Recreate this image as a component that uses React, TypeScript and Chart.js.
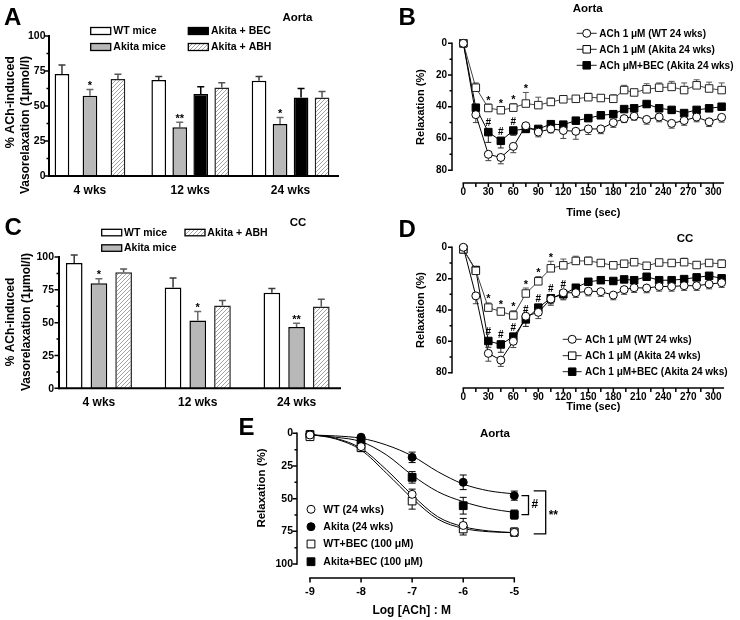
import React, { useEffect, useRef } from 'react';
import { Chart, registerables } from 'chart.js';

Chart.register(...registerables);

const FONT = 'Arial, "Liberation Sans", Helvetica, sans-serif';
Chart.defaults.font.family = FONT;
Chart.defaults.color = '#000';

const PAGE_W = 740;
const PAGE_H = 620;
const Y_W = 30;
const X_H = 30;
const GRAY = '#b8b8b8';

// ---------------- Panel A : Aorta, % ACh-induced vasorelaxation ----------------
const ageLabels = ['4 wks', '12 wks', '24 wks'];
const aortaWT = [72.8, 68.5, 68.0];
const aortaWTErr = [6.4, 2.6, 3.1];
const aortaAkita = [57.3, 34.8, 37.2];
const aortaAkitaErr = [4.5, 3.6, 4.6];
const aortaBEC = [null, 58.5, 56.1];
const aortaBECErr = [0, 5.2, 6.4];
const aortaABH = [69.2, 63.2, 56.1];
const aortaABHErr = [3.4, 3.4, 4.3];
const aortaAkitaSig = ['*', '**', '*'];

// ---------------- Panel C : CC ----------------
const ccWT = [95.4, 76.7, 72.7];
const ccWTErr = [6.1, 7.3, 3.3];
const ccAkita = [80.0, 51.6, 46.6];
const ccAkitaErr = [3.5, 6.9, 3.0];
const ccABH = [88.4, 63.0, 62.3];
const ccABHErr = [2.5, 3.8, 5.5];
const ccAkitaSig = ['*', '*', '**'];

const pctTicks = [0, 25, 50, 75, 100];
const pctMinor = [12.5, 37.5, 62.5, 87.5];

// ---------------- Panels B, D : time course ----------------
const timeSec = [0, 15, 30, 45, 60, 75, 90, 105, 120, 135, 150, 165, 180, 193, 205, 220, 235, 250, 265, 280, 295, 310];
const timeTickLabels = [0, 30, 60, 90, 120, 150, 180, 210, 240, 270, 300];
const timeMinorTicks = [15, 45, 75, 105, 135, 165, 195, 225, 255, 285];
const relaxTicks = [0, 20, 40, 60, 80];
const relaxMinor = [10, 30, 50, 70];

// B (Aorta)
const bWT = [0, 45, 70, 72, 65, 52, 56, 54, 55, 55.5, 54, 54, 50, 47.5, 46, 48, 46.5, 50.5, 48.7, 46.5, 49.5, 46.7];
const bWTErr = [0, 5, 4, 4, 4, 2, 3, 2.5, 5, 5, 3.5, 3, 3, 2.5, 2.5, 3, 3, 3, 3, 3, 3, 3];
const bAkita = [0, 28, 40.8, 42.2, 40.6, 38, 39, 37, 35.3, 35, 34, 34.5, 35, 29.5, 31, 29, 28, 27.5, 29.5, 26.5, 28.5, 29.5];
const bAkitaErr = [0, 3, 2.5, 2, 2.5, 7, 5, 2.5, 2, 2, 2.5, 2, 2.5, 3, 1.5, 3.5, 3, 3.5, 4.5, 3.5, 4, 4.5];
const bBEC = [0, 40.6, 56, 61.5, 55, 54, 54, 51, 51.3, 48.8, 47.2, 45.4, 44.7, 41.5, 41, 38.3, 41, 42, 44, 42, 41, 40];
const bBECErr = [0, 2, 6.5, 4.5, 3, 2, 2, 1.5, 1.5, 1.5, 1.5, 1.5, 1.5, 1.5, 2, 2, 1.5, 2, 2, 1.5, 1.5, 2];
const bAkitaStarAt = [30, 45, 60, 75];
const bBECHashAt = [30, 45, 60];

// D (CC)
const dWT = [0, 31, 67.7, 72, 60, 44, 41.5, 33, 29, 29, 28, 28.3, 30.5, 27, 25.8, 26, 25, 25, 24.5, 24.5, 23.5, 22.6];
const dWTErr = [0, 5, 5, 4, 4, 3, 4, 4, 3, 3, 3, 3, 3, 3, 3, 3, 3, 3, 3, 3, 3, 3];
const dAkita = [1.3, 15, 38.5, 41, 43.5, 29.5, 21.7, 13.4, 11.5, 8.7, 8.7, 10, 11.5, 10.5, 9.5, 11.8, 9.7, 10, 9.5, 11.3, 10, 10.5];
const dAkitaErr = [0, 2, 3, 2, 3, 3.5, 3, 4.5, 4, 3, 2.5, 2, 2, 2, 2, 2, 2, 2, 2.5, 2, 2, 2.5];
const dBEC = [1.3, 14.5, 59.8, 62, 57, 46, 38.5, 32.5, 30, 25.8, 22, 21, 21.5, 20.5, 21, 18.8, 21, 21, 20.3, 19.2, 18.2, 19.8];
const dBECErr = [0, 2, 4, 5, 4.5, 4.5, 3, 3.5, 3.5, 2, 2, 2, 2, 2, 2, 2, 2, 2, 2, 2, 2, 2];
const dAkitaStarAt = [30, 45, 60, 75, 90, 105];
const dBECHashAt = [30, 45, 60, 75, 90, 105, 120];

// ---------------- Panel E : concentration-response ----------------
const logACh = [-9, -8, -7, -6, -5];
const eWT = [1.3, 10.2, 46.7, 70.5, 75.8];
const eWTErr = [1.5, 3, 4, 5.4, 3];
const eAkita = [0.8, 3.0, 18.4, 37.5, 47.7];
const eAkitaErr = [1, 1.5, 4, 5.6, 3.5];
const eWTBEC = [2.6, 11, 51.8, 73.2, 75.5];
const eWTBECErr = [1.5, 3, 6.2, 4.6, 3];
const eAkitaBEC = [1, 5.6, 33.7, 55.4, 62.2];
const eAkitaBECErr = [1, 2, 4.4, 6.4, 3.5];
const fitX = [-9, -8.5, -8, -7.5, -7, -6.5, -6, -5.5, -5];
const fitWT = [0.8, 3.8, 11.5, 28, 47.2, 63.8, 71.4, 74.7, 76];
const fitAkita = [1.3, 2, 3.8, 9, 17.3, 29.3, 38.8, 44, 46.4];
const fitWTBEC = [0.8, 4.3, 12.8, 30.6, 49.7, 65.6, 72.7, 75.3, 76];
const fitAkitaBEC = [1.3, 3, 6.4, 16.6, 32, 44.6, 52.3, 57.5, 60.5];
const logTicks = [-9, -8, -7, -6, -5];

// ---------------- helpers ----------------
function font(size: number, bold = true) {
  return `${bold ? 'bold ' : ''}${size}px ${FONT}`;
}

let hatchCache: any = null;
function hatch() {
  if (hatchCache) return hatchCache;
  const c = document.createElement('canvas');
  c.width = 4;
  c.height = 4;
  const g = c.getContext('2d')!;
  g.fillStyle = '#fff';
  g.fillRect(0, 0, 4, 4);
  g.strokeStyle = '#9a9a9a';
  g.lineWidth = 0.9;
  g.beginPath();
  g.moveTo(0, 4); g.lineTo(4, 0);
  g.moveTo(-1, 1); g.lineTo(1, -1);
  g.moveTo(3, 5); g.lineTo(5, 3);
  g.stroke();
  hatchCache = g.createPattern(c, 'repeat');
  return hatchCache;
}

function drawMarkerShape(ctx: any, style: string, x: number, y: number, r: number, fill: string) {
  ctx.beginPath();
  if (style === 'circle') ctx.arc(x, y, r, 0, Math.PI * 2);
  else ctx.rect(x - r, y - r, r * 2, r * 2);
  ctx.fillStyle = fill;
  ctx.fill();
  ctx.lineWidth = 1;
  ctx.strokeStyle = '#000';
  ctx.stroke();
}

function valOf(raw: any) {
  return raw !== null && typeof raw === 'object' ? raw.y : raw;
}

function errEnds(ds: any, v: number, e: number) {
  if (ds.errDir === 'both') return [v - e, v + e];
  if (ds.errDir === 'minus') return [v - e];
  return [v + e];
}

const errorBarsPlugin = {
  id: 'errorBars',
  beforeDatasetsDraw(chart: any) {
    const ys = chart.scales.y;
    const ctx = chart.ctx;
    chart.data.datasets.forEach((ds: any, di: number) => {
      if (!ds.errors) return;
      const meta = chart.getDatasetMeta(di);
      ctx.save();
      ctx.strokeStyle = ds.errColor || '#000';
      ctx.lineWidth = ds.errWidth || 1;
      const cap = ds.capHalf ?? 3;
      ds.data.forEach((raw: any, i: number) => {
        const v = valOf(raw);
        const e = ds.errors[i];
        const el = meta.data[i];
        if (v == null || !e || !el) return;
        const x = el.x;
        const y0 = ys.getPixelForValue(v);
        ctx.beginPath();
        for (const end of errEnds(ds, v, e)) {
          const y1 = ys.getPixelForValue(end);
          ctx.moveTo(x, y0);
          ctx.lineTo(x, y1);
          ctx.moveTo(x - cap, y1);
          ctx.lineTo(x + cap, y1);
        }
        ctx.stroke();
      });
      ctx.restore();
    });
  },
  afterDatasetsDraw(chart: any) {
    const ys = chart.scales.y;
    const ctx = chart.ctx;
    chart.data.datasets.forEach((ds: any, di: number) => {
      if (!ds.marks) return;
      const meta = chart.getDatasetMeta(di);
      ctx.save();
      ctx.fillStyle = '#000';
      ctx.textAlign = 'center';
      ctx.textBaseline = 'alphabetic';
      ds.data.forEach((raw: any, i: number) => {
        const m = ds.marks[i];
        const v = valOf(raw);
        const el = meta.data[i];
        if (!m || v == null || !el) return;
        let top = ys.getPixelForValue(v) - (ds.markClear || 0);
        const e = ds.errors ? ds.errors[i] : 0;
        if (e) for (const end of errEnds(ds, v, e)) top = Math.min(top, ys.getPixelForValue(end));
        const isHash = m.indexOf('#') >= 0;
        ctx.font = font(isHash ? 10 : 11);
        ctx.fillText(m, el.x, top - (isHash ? 2 : 0.5));
      });
      ctx.restore();
    });
  },
};

const prismAxesPlugin = {
  id: 'prismAxes',
  afterDraw(chart: any, _args: any, o: any) {
    if (!o || !o.on) return;
    const { ctx, chartArea } = chart;
    const xs = chart.scales.x;
    const ys = chart.scales.y;
    ctx.save();
    ctx.strokeStyle = '#000';
    ctx.lineWidth = o.lw;
    const ax = o.yAxisX ?? chartArea.left;
    const ya = ys.getPixelForValue(o.yFrom);
    const yb = ys.getPixelForValue(o.yTo);
    ctx.lineCap = 'square';
    ctx.beginPath();
    ctx.moveTo(ax, ya);
    ctx.lineTo(ax, yb);
    ctx.stroke();
    ctx.lineCap = 'butt';
    ctx.lineWidth = o.tw;
    ctx.beginPath();
    for (const v of o.yMajor) {
      const p = ys.getPixelForValue(v);
      ctx.moveTo(ax, p);
      ctx.lineTo(ax - o.major, p);
    }
    for (const v of o.yMinor || []) {
      const p = ys.getPixelForValue(v);
      ctx.moveTo(ax, p);
      ctx.lineTo(ax - o.minor, p);
    }
    ctx.stroke();
    if (o.yLabelSize) {
      ctx.font = font(o.yLabelSize);
      ctx.fillStyle = '#000';
      ctx.textAlign = 'right';
      ctx.textBaseline = 'middle';
      for (const v of o.yMajor) ctx.fillText(String(v), ax - o.yLabelPad, ys.getPixelForValue(v) + 0.5);
    }
    const ay = o.xAxisY ?? chartArea.bottom;
    const xa = o.xFromPx ?? xs.getPixelForValue(o.xFrom);
    const xb = o.xToPx ?? xs.getPixelForValue(o.xTo);
    ctx.lineWidth = o.lw;
    ctx.lineCap = 'square';
    ctx.beginPath();
    ctx.moveTo(xa, ay);
    ctx.lineTo(xb, ay);
    ctx.stroke();
    ctx.lineCap = 'butt';
    ctx.lineWidth = o.tw;
    ctx.beginPath();
    for (const v of o.xMajor || []) {
      const p = xs.getPixelForValue(v);
      ctx.moveTo(p, ay);
      ctx.lineTo(p, ay + o.major);
    }
    for (const v of o.xMinor || []) {
      const p = xs.getPixelForValue(v);
      ctx.moveTo(p, ay);
      ctx.lineTo(p, ay + o.xMinorLen);
    }
    ctx.stroke();
    ctx.restore();
  },
};

const decoPlugin = {
  id: 'deco',
  afterDraw(chart: any, _args: any, o: any) {
    const ctx = chart.ctx;
    for (const it of (o && o.items) || []) {
      ctx.save();
      if (it.t === 'text') {
        ctx.font = font(it.size, it.bold !== false);
        ctx.fillStyle = '#000';
        ctx.textAlign = it.align || 'center';
        ctx.textBaseline = it.base || 'middle';
        ctx.translate(it.x, it.y);
        if (it.rot) ctx.rotate(it.rot);
        ctx.fillText(it.text, 0, 0);
      } else if (it.t === 'swatch') {
        ctx.fillStyle = it.fill === 'hatch' ? hatch() : it.fill;
        ctx.fillRect(it.x, it.y, it.w, it.h);
        ctx.lineWidth = 1.3;
        ctx.strokeStyle = '#000';
        ctx.strokeRect(it.x, it.y, it.w, it.h);
      } else if (it.t === 'lineLegend') {
        ctx.strokeStyle = it.lineColor || '#000';
        ctx.lineWidth = 1;
        ctx.beginPath();
        ctx.moveTo(it.x1, it.y);
        ctx.lineTo(it.x2, it.y);
        ctx.stroke();
        drawMarkerShape(ctx, it.marker, (it.x1 + it.x2) / 2, it.y, it.r, it.fill);
      } else if (it.t === 'marker') {
        drawMarkerShape(ctx, it.marker, it.x, it.y, it.r, it.fill);
      } else if (it.t === 'bracket') {
        const ys = chart.scales.y;
        const y1 = ys.getPixelForValue(it.v1);
        const y2 = ys.getPixelForValue(it.v2);
        ctx.strokeStyle = '#000';
        ctx.lineWidth = 1.3;
        ctx.beginPath();
        ctx.moveTo(it.x - it.arm, y1);
        ctx.lineTo(it.x, y1);
        ctx.lineTo(it.x, y2);
        ctx.lineTo(it.x - it.arm, y2);
        ctx.stroke();
        ctx.font = font(it.size || 12);
        ctx.fillStyle = '#000';
        ctx.textAlign = 'left';
        ctx.textBaseline = 'middle';
        ctx.fillText(it.label, it.x + 3, (y1 + y2) / 2 + (it.dy || 0));
      }
      ctx.restore();
    }
  },
};

function layoutFor(f: any) {
  return {
    autoPadding: false,
    padding: {
      left: f.left - Y_W,
      right: PAGE_W - f.right,
      top: f.top,
      bottom: PAGE_H - f.bottom - X_H,
    },
  };
}

function linearAxis(min: number, max: number, ticks: number[], opts: any) {
  return {
    type: 'linear',
    min,
    max,
    bounds: 'data',
    reverse: !!opts.reverse,
    afterBuildTicks: (s: any) => {
      s.ticks = ticks.map((v) => ({ value: v }));
    },
    afterFit: (s: any) => {
      if (opts.horizontal) s.height = X_H;
      else s.width = Y_W;
    },
    grid: { display: false, drawTicks: false },
    border: { display: false },
    ticks: {
      display: !opts.hideLabels,
      font: { size: opts.size, weight: 'bold', family: FONT },
      color: '#000',
      padding: opts.pad,
      autoSkip: false,
      maxRotation: 0,
    },
  };
}

function baseOptions(frame: any, scales: any, plugins: any) {
  return {
    responsive: false,
    animation: false,
    devicePixelRatio: 1,
    events: [],
    layout: layoutFor(frame),
    scales,
    plugins: Object.assign(
      { legend: { display: false }, title: { display: false }, tooltip: { enabled: false } },
      plugins
    ),
  };
}

// ---------------- Panel builders ----------------
function makeBars(which: 'A' | 'C') {
  const isA = which === 'A';
  const frame = isA
    ? { left: 39.8, right: 340.7, top: 36, bottom: 176 }
    : { left: 49.5, right: 346, top: 257, bottom: 388.3 };
  const bw = 1.5;
  const datasets: any[] = [
    {
      label: 'WT mice',
      data: isA ? aortaWT : ccWT,
      errors: isA ? aortaWTErr : ccWTErr,
      errDir: 'plus', errColor: '#3a3a3a', errWidth: 1.5, capHalf: 3.5,
      backgroundColor: '#fff', borderColor: '#000', borderWidth: bw,
    },
    {
      label: 'Akita mice',
      data: isA ? aortaAkita : ccAkita,
      errors: isA ? aortaAkitaErr : ccAkitaErr,
      marks: isA ? aortaAkitaSig : ccAkitaSig,
      errDir: 'plus', errColor: '#6a6a6a', errWidth: 1.5, capHalf: 3.5,
      backgroundColor: GRAY, borderColor: '#000', borderWidth: bw,
    },
  ];
  if (isA) {
    datasets.push({
      label: 'Akita + BEC',
      data: aortaBEC,
      errors: aortaBECErr,
      errDir: 'plus', errColor: '#000', errWidth: 1.5, capHalf: 3.5,
      backgroundColor: '#000', borderColor: '#000', borderWidth: bw,
    });
  }
  datasets.push({
    label: 'Akita + ABH',
    data: isA ? aortaABH : ccABH,
    errors: isA ? aortaABHErr : ccABHErr,
    errDir: 'plus', errColor: '#555', errWidth: 1.5, capHalf: 3.5,
    backgroundColor: hatch(), borderColor: '#222', borderWidth: bw,
  });

  const items: any[] = isA
    ? [
        { t: 'text', text: 'A', x: 4, y: 25, size: 24, align: 'left', base: 'alphabetic' },
        { t: 'text', text: 'Aorta', x: 297.5, y: 17.5, size: 11.5 },
        { t: 'swatch', x: 90.7, y: 27.5, w: 20, h: 7, fill: '#fff' },
        { t: 'swatch', x: 90.7, y: 43.5, w: 20, h: 7, fill: GRAY },
        { t: 'swatch', x: 188.3, y: 27.5, w: 20, h: 7, fill: '#000' },
        { t: 'swatch', x: 188.3, y: 43.5, w: 20, h: 7, fill: 'hatch' },
        { t: 'text', text: 'WT mice', x: 113.3, y: 31.5, size: 10.5, align: 'left' },
        { t: 'text', text: 'Akita mice', x: 113.3, y: 47.5, size: 10.5, align: 'left' },
        { t: 'text', text: 'Akita + BEC', x: 211, y: 31.5, size: 10.5, align: 'left' },
        { t: 'text', text: 'Akita + ABH', x: 211, y: 47.5, size: 10.5, align: 'left' },
        { t: 'text', text: '% ACh-induced', x: 10.5, y: 56, size: 12.5, rot: -Math.PI / 2, align: 'right' },
        { t: 'text', text: 'Vasorelaxation (1μmol/l)', x: 26, y: 56, size: 12, rot: -Math.PI / 2, align: 'right' },
      ]
    : [
        { t: 'text', text: 'C', x: 4.5, y: 235, size: 24, align: 'left', base: 'alphabetic' },
        { t: 'text', text: 'CC', x: 298, y: 222.5, size: 11.5 },
        { t: 'swatch', x: 101.7, y: 229.3, w: 20, h: 6.5, fill: '#fff' },
        { t: 'swatch', x: 101.7, y: 244.8, w: 20, h: 6.5, fill: GRAY },
        { t: 'swatch', x: 185, y: 229.3, w: 20, h: 6.5, fill: 'hatch' },
        { t: 'text', text: 'WT mice', x: 124, y: 233, size: 10.5, align: 'left' },
        { t: 'text', text: 'Akita mice', x: 124, y: 248.5, size: 10.5, align: 'left' },
        { t: 'text', text: 'Akita + ABH', x: 207.3, y: 233, size: 10.5, align: 'left' },
        { t: 'text', text: '% ACh-induced', x: 10.5, y: 322, size: 12, rot: -Math.PI / 2 },
        { t: 'text', text: 'Vasorelaxation (1μmol/l)', x: 26.7, y: 322, size: 12, rot: -Math.PI / 2 },
      ];

  return {
    type: 'bar',
    data: { labels: ageLabels, datasets },
    options: Object.assign(
      baseOptions(
        frame,
        {
          x: {
            type: 'category',
            offset: true,
            afterFit: (s: any) => { s.height = X_H; },
            grid: { display: false, drawTicks: false },
            border: { display: false },
            ticks: { font: { size: 12, weight: 'bold', family: FONT }, color: '#000', padding: 7.5, maxRotation: 0 },
          },
          y: linearAxis(0, 100, pctTicks, { size: 10.5, pad: 0, hideLabels: true }),
        },
        {
          prismAxes: {
            on: true, lw: 2, tw: 1.5, major: 4.5, minor: 2.5,
            yAxisX: isA ? 49 : 59, yFrom: 0, yTo: 100, yMajor: pctTicks, yMinor: pctMinor,
            yLabelSize: 10.5, yLabelPad: isA ? 3.5 : 5,
            xFromPx: isA ? 49 : 59, xToPx: isA ? 338 : 340,
          },
          deco: { items },
        }
      ),
      {
        datasets: {
          bar: isA
            ? { categoryPercentage: 0.8375, barPercentage: 0.7, skipNull: true, maxBarThickness: 14.7 }
            : { categoryPercentage: 0.75, barPercentage: 0.675 },
        },
      }
    ),
    plugins: [errorBarsPlugin, prismAxesPlugin, decoPlugin],
  };
}

function makeTime(which: 'B' | 'D') {
  const isB = which === 'B';
  const frame = isB
    ? { left: 452, right: 723.3, top: 43.3, bottom: 183 }
    : { left: 452, right: 723.3, top: 247.3, bottom: 388 };
  const yMax = isB ? 88.1 : 89.8;
  const wt = isB ? bWT : dWT;
  const wtErr = isB ? bWTErr : dWTErr;
  const ak = isB ? bAkita : dAkita;
  const akErr = isB ? bAkitaErr : dAkitaErr;
  const bec = isB ? bBEC : dBEC;
  const becErr = isB ? bBECErr : dBECErr;
  const starAt = isB ? bAkitaStarAt : dAkitaStarAt;
  const hashAt = isB ? bBECHashAt : dBECHashAt;
  const pts = (arr: number[]) => timeSec.map((t, i) => ({ x: t, y: arr[i] }));
  const common = { borderWidth: 1, clip: false, pointBorderWidth: 1, tension: 0 };
  const datasets = [
    Object.assign({}, common, {
      label: 'ACh 1 μM (WT 24 wks)',
      data: pts(wt), errors: wtErr, errDir: 'plus', errColor: '#444', capHalf: 3,
      borderColor: '#000', pointStyle: 'circle', pointRadius: 4,
      pointBackgroundColor: '#fff', pointBorderColor: '#000',
    }),
    Object.assign({}, common, {
      label: 'ACh 1 μM (Akita 24 wks)',
      data: pts(ak), errors: akErr, errDir: 'minus', errColor: '#555', capHalf: 3,
      marks: timeSec.map((t) => (starAt.indexOf(t) >= 0 ? '*' : '')),
      borderColor: '#444', pointStyle: 'rect', pointRadius: 5.3,
      pointBackgroundColor: '#fff', pointBorderColor: '#222',
    }),
    Object.assign({}, common, {
      label: 'ACh μM+BEC (Akita 24 wks)',
      data: pts(bec), errors: becErr, errDir: 'plus', errColor: '#222', capHalf: 3,
      marks: timeSec.map((t) => (hashAt.indexOf(t) >= 0 ? '#' : '')), markClear: 4,
      borderColor: '#000', pointStyle: 'rect', pointRadius: 5.3,
      pointBackgroundColor: '#000', pointBorderColor: '#000',
    }),
  ];
  const lg = isB
    ? { x1: 576.7, x2: 596.7, tx: 599.3, rows: [33.3, 49.3, 65.3] }
    : { x1: 562.7, x2: 581.7, tx: 585, rows: [339.3, 355.7, 371.7] };
  const names = isB
    ? ['ACh 1 μM (WT 24 wks)', 'ACh 1 μM (Akita 24 wks)', 'ACh μM+BEC (Akita 24 wks)']
    : ['ACh 1 μM (WT 24 wks)', 'ACh 1 μM (Akita 24 wks)', 'ACh 1 μM+BEC (Akita 24 wks)'];
  const mk = [
    { marker: 'circle', r: 4, fill: '#fff' },
    { marker: 'rect', r: 3.75, fill: '#fff' },
    { marker: 'rect', r: 3.75, fill: '#000' },
  ];
  const items: any[] = [
    { t: 'text', text: which, x: 398.5, y: isB ? 25 : 237, size: 24, align: 'left', base: 'alphabetic' },
    isB
      ? { t: 'text', text: 'Aorta', x: 587.7, y: 8.5, size: 11.5 }
      : { t: 'text', text: 'CC', x: 685, y: 239, size: 11.5 },
    { t: 'text', text: 'Relaxation (%)', x: 421, y: isB ? 107 : 310, size: 11, rot: -Math.PI / 2 },
    { t: 'text', text: 'Time (sec)', x: 593.3, y: isB ? 212.7 : 407, size: 11 },
  ];
  lg.rows.forEach((y, i) => {
    items.push({ t: 'lineLegend', x1: lg.x1, x2: lg.x2, y, marker: mk[i].marker, r: mk[i].r, fill: mk[i].fill, lineColor: '#222' });
    items.push({ t: 'text', text: names[i], x: lg.tx, y: y + 0.5, size: 10, align: 'left' });
  });

  return {
    type: 'line',
    data: { datasets },
    options: baseOptions(
      frame,
      {
        x: linearAxis(-13.6, 312, timeTickLabels, { horizontal: true, size: 10, pad: 3 }),
        y: linearAxis(0, yMax, relaxTicks, { reverse: true, size: 10, pad: 5 }),
      },
      {
        prismAxes: {
          on: true, lw: 1.5, tw: 1.5, major: 4, minor: 2.5, xMinorLen: 4,
          yFrom: 0, yTo: 80, yMajor: relaxTicks, yMinor: relaxMinor,
          xFrom: 0, xTo: 312, xMajor: timeTickLabels, xMinor: timeMinorTicks,
        },
        deco: { items },
      }
    ),
    plugins: [errorBarsPlugin, prismAxesPlugin, decoPlugin],
  };
}

function makeE() {
  const frame = { left: 297, right: 514.3, top: 433.3, bottom: 578 };
  const pts = (xs: number[], ys: number[]) => xs.map((x, i) => ({ x, y: ys[i] }));
  const ptDs = (label: string, ys: number[], err: number[], style: string, fill: string) => ({
    label, data: pts(logACh, ys), errors: err, errDir: 'both', errColor: '#000', capHalf: 3.5,
    showLine: false, clip: false, pointStyle: style, pointRadius: style === 'circle' ? 4 : 5.5,
    pointBackgroundColor: fill, pointBorderColor: '#000', pointBorderWidth: 1,
  });
  const fitDs = (label: string, ys: number[]) => ({
    label, data: pts(fitX, ys), borderColor: '#000', borderWidth: 1, pointRadius: 0,
    cubicInterpolationMode: 'monotone', clip: false,
  });
  const datasets = [
    ptDs('WT (24 wks)', eWT, eWTErr, 'circle', '#fff'),
    ptDs('Akita (24 wks)', eAkita, eAkitaErr, 'circle', '#000'),
    ptDs('WT+BEC (100 μM)', eWTBEC, eWTBECErr, 'rect', '#fff'),
    ptDs('Akita+BEC (100 μM)', eAkitaBEC, eAkitaBECErr, 'rect', '#000'),
    fitDs('WT fit', fitWT),
    fitDs('Akita fit', fitAkita),
    fitDs('WT+BEC fit', fitWTBEC),
    fitDs('Akita+BEC fit', fitAkitaBEC),
  ];
  const legendRows = [509.3, 526.7, 544, 561.7];
  const legendNames = ['WT (24 wks)', 'Akita (24 wks)', 'WT+BEC (100 μM)', 'Akita+BEC (100 μM)'];
  const legendMk = [
    { marker: 'circle', r: 4, fill: '#fff' },
    { marker: 'circle', r: 4, fill: '#000' },
    { marker: 'rect', r: 3.9, fill: '#fff' },
    { marker: 'rect', r: 3.9, fill: '#000' },
  ];
  const items: any[] = [
    { t: 'text', text: 'E', x: 238.5, y: 435, size: 24, align: 'left', base: 'alphabetic' },
    { t: 'text', text: 'Aorta', x: 495, y: 434, size: 11.5 },
    { t: 'text', text: 'Relaxation (%)', x: 262, y: 488, size: 11.5, rot: -Math.PI / 2 },
    { t: 'text', text: 'Log [ACh] : M', x: 411.7, y: 610.7, size: 12 },
    { t: 'bracket', x: 528.5, arm: 7, v1: eAkita[4], v2: eAkitaBEC[4], label: '#', size: 12 },
    { t: 'bracket', x: 545.7, arm: 12, v1: 44, v2: 77, label: '**', size: 12, dy: 3 },
  ];
  legendRows.forEach((y, i) => {
    items.push({ t: 'marker', x: 311, y, marker: legendMk[i].marker, r: legendMk[i].r, fill: legendMk[i].fill });
    items.push({ t: 'text', text: legendNames[i], x: 323.3, y: y + 0.5, size: 10.5, align: 'left' });
  });
  return {
    type: 'line',
    data: { datasets },
    options: baseOptions(
      frame,
      {
        x: linearAxis(-9.254, -5, logTicks, { horizontal: true, size: 11, pad: 7 }),
        y: linearAxis(0, 110.7, pctTicks, { reverse: true, size: 10.5, pad: 4 }),
      },
      {
        prismAxes: {
          on: true, lw: 1.5, tw: 1.5, major: 4.5, minor: 2.5, xMinorLen: 0,
          yFrom: 0, yTo: 100, yMajor: pctTicks, yMinor: pctMinor,
          xFrom: -9, xTo: -5, xMajor: logTicks,
        },
        deco: { items },
      }
    ),
    plugins: [errorBarsPlugin, prismAxesPlugin, decoPlugin],
  };
}

function ChartCanvas({ make }: { make: () => any }) {
  const ref = useRef<HTMLCanvasElement>(null);
  useEffect(() => {
    const chart = new Chart(ref.current as HTMLCanvasElement, make());
    return () => chart.destroy();
  }, []);
  return (
    <canvas
      ref={ref}
      width={PAGE_W}
      height={PAGE_H}
      style={{ position: 'absolute', left: 0, top: 0, width: PAGE_W, height: PAGE_H }}
    />
  );
}

export default function App() {
  return (
    <div
      style={{
        position: 'absolute', left: 0, top: 0, width: PAGE_W, height: PAGE_H,
        background: '#fff', overflow: 'hidden',
      }}
    >
      <ChartCanvas make={() => makeBars('A')} />
      <ChartCanvas make={() => makeTime('B')} />
      <ChartCanvas make={() => makeBars('C')} />
      <ChartCanvas make={() => makeTime('D')} />
      <ChartCanvas make={makeE} />
    </div>
  );
}
